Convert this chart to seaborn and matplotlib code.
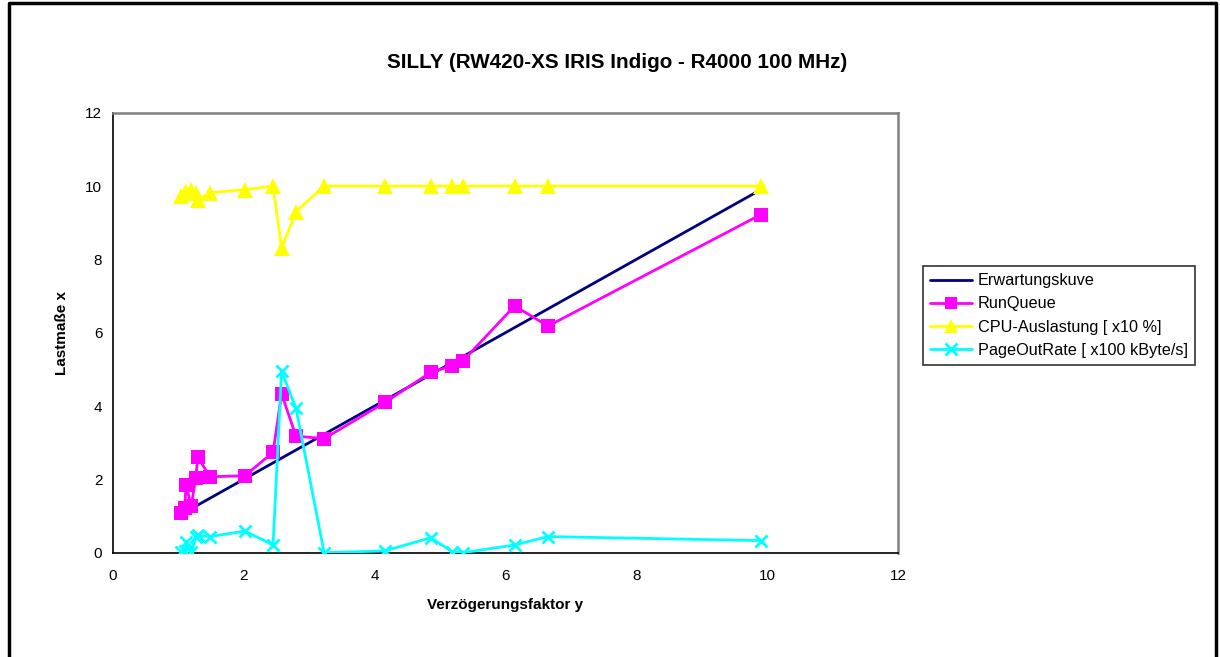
import matplotlib
matplotlib.use("Agg")
import matplotlib.pyplot as plt
from matplotlib.lines import Line2D
import seaborn as sns
import pandas as pd

# Measurements: delay factor y against load figures x
delay_factor = [1.05, 1.10, 1.12, 1.20, 1.27, 1.30, 1.49, 2.02, 2.45, 2.58,
                2.80, 3.23, 4.16, 4.86, 5.19, 5.35, 6.14, 6.65, 9.90]
run_queue = [1.07, 1.22, 1.85, 1.27, 2.05, 2.60, 2.07, 2.10, 2.74, 4.33,
             3.18, 3.11, 4.10, 4.92, 5.10, 5.23, 6.73, 6.18, 9.22]
cpu_load = [9.72, 9.80, 9.85, 9.88, 9.80, 9.62, 9.82, 9.90, 10.0, 8.30,
            9.30, 10.0, 10.0, 10.0, 10.0, 10.0, 10.0, 10.0, 10.0]
page_out = [0.03, 0.05, 0.28, 0.02, 0.42, 0.47, 0.44, 0.59, 0.21, 4.95,
            3.94, 0.00, 0.05, 0.41, 0.02, 0.00, 0.21, 0.44, 0.33]

# Expected curve (x = y)
expected_x = [1.20, 9.90]
expected_y = [1.20, 9.90]

labels = ["Erwartungskuve", "RunQueue", "CPU-Auslastung [ x10 %]",
          "PageOutRate [ x100 kByte/s]"]
x_ticks = [0, 2, 4, 6, 8, 10, 12]
y_ticks = [0, 2, 4, 6, 8, 10, 12]

sns.set_theme(style="white")
plt.rcParams["font.family"] = ["Liberation Sans", "DejaVu Sans"]
plt.rcParams["text.color"] = "black"
plt.rcParams["axes.labelcolor"] = "black"
plt.rcParams["xtick.color"] = "black"
plt.rcParams["ytick.color"] = "black"

NAVY, MAGENTA, YELLOW, CYAN = "#000080", "#FF00FF", "#FFFF00", "#00FFFF"

fig = plt.figure(figsize=(12.2, 6.57), dpi=100)
W, H = 1220, 657
ax = fig.add_axes([112.7 / W, 1 - 552.7 / H, (898.2 - 112.7) / W, (552.7 - 112.7) / H])

exp_df = pd.DataFrame({"x": expected_x, "y": expected_y})
meas_df = pd.DataFrame({"x": delay_factor, "rq": run_queue,
                        "cpu": cpu_load, "po": page_out})

sns.lineplot(data=exp_df, x="x", y="y", ax=ax, color=NAVY, lw=2,
             estimator=None, sort=False, zorder=3)
sns.lineplot(data=meas_df, x="x", y="rq", ax=ax, color=MAGENTA, lw=2,
             marker="s", markersize=10, markeredgewidth=0,
             markerfacecolor=MAGENTA, estimator=None, sort=False, zorder=4)
sns.lineplot(data=meas_df, x="x", y="cpu", ax=ax, color=YELLOW, lw=2,
             marker="^", markersize=11, markeredgewidth=0,
             markerfacecolor=YELLOW, estimator=None, sort=False, zorder=4)
sns.lineplot(data=meas_df, x="x", y="po", ax=ax, color=CYAN, lw=2,
             marker="x", markersize=9, markeredgewidth=2,
             markeredgecolor=CYAN, estimator=None, sort=False, zorder=5)

ax.set_xlim(0, 12)
ax.set_ylim(0, 12)
ax.set_xticks(x_ticks)
ax.set_yticks(y_ticks)
ax.set_xticklabels([str(t) for t in x_ticks])
ax.set_yticklabels([str(t) for t in y_ticks])
ax.tick_params(axis="both", direction="inout", length=7, width=1,
               color="black", labelsize=11, labelcolor="black")
ax.tick_params(axis="x", pad=8)
ax.tick_params(axis="y", pad=4)

for side in ["left", "bottom"]:
    ax.spines[side].set_color("black")
    ax.spines[side].set_linewidth(1.2)
for side in ["top", "right"]:
    ax.spines[side].set_color("#808080")
    ax.spines[side].set_linewidth(1.8)
ax.grid(False)

ax.set_xlabel("Verzögerungsfaktor y", fontsize=11, fontweight="bold", color="black")
ax.set_ylabel("Lastmaße x", fontsize=11, fontweight="bold", color="black")
ax.xaxis.set_label_coords(0.5, -0.103)
ax.yaxis.set_label_coords(-0.055, 0.5)

fig.text(617 / W, 1 - 63 / H, "SILLY (RW420-XS IRIS Indigo - R4000 100 MHz)",
         ha="center", va="center", fontsize=14.9, fontweight="bold", color="black")

handles = [
    Line2D([], [], color=NAVY, lw=2),
    Line2D([], [], color=MAGENTA, lw=2, marker="s", markersize=9, markeredgewidth=0),
    Line2D([], [], color=YELLOW, lw=2, marker="^", markersize=10, markeredgewidth=0),
    Line2D([], [], color=CYAN, lw=2, marker="x", markersize=9, markeredgewidth=2),
]
leg = fig.legend(handles, labels, loc="upper left",
                 bbox_to_anchor=(922.7 / W, 1 - 266 / H),
                 bbox_transform=fig.transFigure, fontsize=11.7,
                 frameon=True, fancybox=False, shadow=False,
                 handlelength=2.6, handletextpad=0.35, labelspacing=0.5,
                 borderpad=0.45, borderaxespad=0)
leg.get_frame().set_edgecolor("black")
leg.get_frame().set_linewidth(1.2)
leg.get_frame().set_facecolor("white")
for t in leg.get_texts():
    t.set_color("black")

# Outer frame around the chart (open at the bottom edge)
fx0, fx1, fy1 = 9 / W, 1216 / W, 1 - 3 / H
fig.add_artist(Line2D([fx0, fx0, fx1, fx1], [0, fy1, fy1, 0],
                      transform=fig.transFigure, color="black", lw=2.5))

fig.savefig("out.png", dpi=100, facecolor="white")
